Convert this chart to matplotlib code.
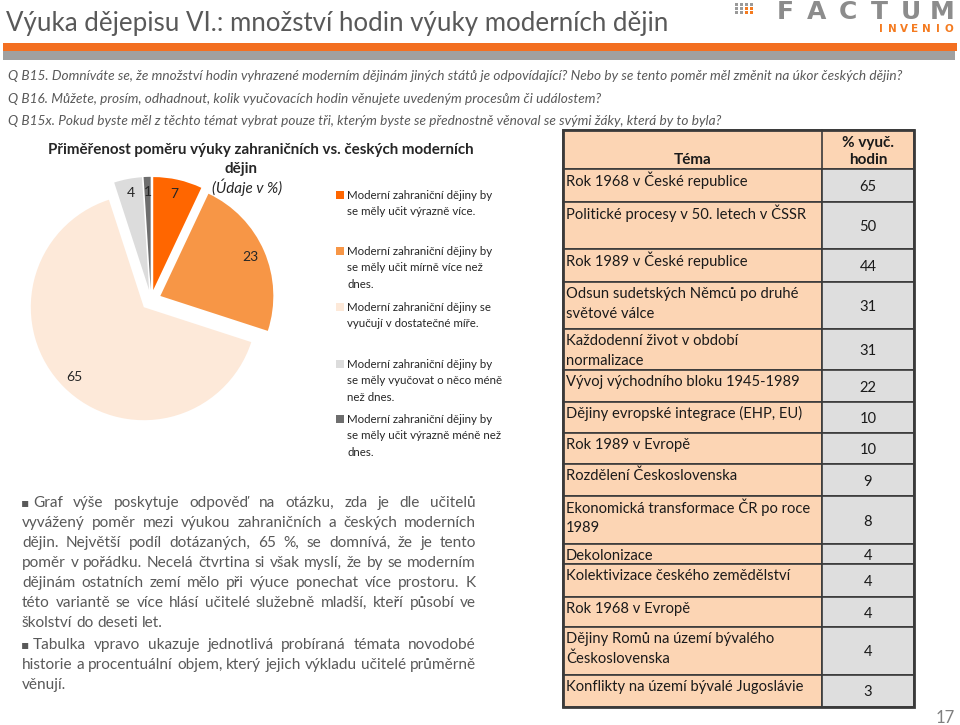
import matplotlib
matplotlib.use("Agg")
import matplotlib.pyplot as plt
from matplotlib.patches import Rectangle

# ---------------- data ----------------
pie_values = [7, 23, 65, 4, 1]
pie_colors = ["#FF6600", "#F79646", "#FDE9D9", "#DCDCDC", "#6E6E6E"]
pie_legend = [
    "Moderní zahraniční dějiny by\nse měly učit výrazně více.",
    "Moderní zahraniční dějiny by\nse měly učit mírně více než\ndnes.",
    "Moderní zahraniční dějiny se\nvyučují v dostatečné míře.",
    "Moderní zahraniční dějiny by\nse měly vyučovat o něco méně\nnež dnes.",
    "Moderní zahraniční dějiny by\nse měly učit výrazně méně než\ndnes.",
]
chart_title = ["Přiměřenost poměru výuky zahraničních vs. českých moderních", "dějin"]
chart_subtitle = "(Údaje v %)"

table_header = ["Téma", "% vyuč.\nhodin"]
table_topics = [
    "Rok 1968 v České republice",
    "Politické procesy v 50. letech v ČSSR",
    "Rok 1989 v České republice",
    "Odsun sudetských Němců po druhé\nsvětové válce",
    "Každodenní život v období\nnormalizace",
    "Vývoj východního bloku 1945-1989",
    "Dějiny evropské integrace (EHP, EU)",
    "Rok 1989 v Evropě",
    "Rozdělení Československa",
    "Ekonomická transformace ČR po roce\n1989",
    "Dekolonizace",
    "Kolektivizace českého zemědělství",
    "Rok 1968 v Evropě",
    "Dějiny Romů na území bývalého\nČeskoslovenska",
    "Konflikty na území bývalé Jugoslávie",
]
table_values = [65, 50, 44, 31, 31, 22, 10, 10, 9, 8, 4, 4, 4, 4, 3]

page_title = "Výuka dějepisu VI.: množství hodin výuky moderních dějin"
questions = [
    "Q B15. Domníváte se, že množství hodin vyhrazené moderním dějinám jiných států je odpovídající? Nebo by se tento poměr měl změnit na úkor českých dějin?",
    "Q B16. Můžete, prosím, odhadnout, kolik vyučovacích hodin věnujete uvedeným procesům či událostem?",
    "Q B15x. Pokud byste měl z těchto témat vybrat pouze tři, kterým byste se přednostně věnoval se svými žáky, která by to byla?",
]
paragraphs = [
    ["Graf výše poskytuje odpověď na otázku, zda je dle učitelů",
     "vyvážený poměr mezi výukou zahraničních a českých moderních",
     "dějin. Největší podíl dotázaných, 65 %, se domnívá, že je tento",
     "poměr v pořádku. Necelá čtvrtina si však myslí, že by se moderním",
     "dějinám ostatních zemí mělo při výuce ponechat více prostoru. K",
     "této variantě se více hlásí učitelé služebně mladší, kteří působí ve",
     "školství do deseti let."],
    ["Tabulka vpravo ukazuje jednotlivá probíraná témata novodobé",
     "historie a procentuální objem, který jejich výkladu učitelé průměrně",
     "věnují."],
]
page_number = "17"

# ---------------- layout ----------------
W, H = 960, 725
FAM = ["Lato", "DejaVu Sans"]
plt.rcParams["font.family"] = FAM

fig = plt.figure(figsize=(W / 100, H / 100), dpi=100)
ax0 = fig.add_axes([0, 0, 1, 1])
ax0.set_xlim(0, W)
ax0.set_ylim(H, 0)
ax0.axis("off")
R = fig.canvas.get_renderer()


def width(t):
    return t.get_window_extent(renderer=R).width


def fit(t, w):
    t.set_fontsize(t.get_fontsize() * w / width(t))
    return t


# header
fit(ax0.text(6, 23, page_title, fontsize=20, color="#595959", va="center", ha="left"), 662)
ax0.add_patch(Rectangle((3, 43), 954, 8, color="#F36F21", lw=0))
ax0.add_patch(Rectangle((3, 51), 952, 9, color="#A0A0A0", lw=0))

# logo
for r in range(3):
    for c in range(4):
        col = "#F47B20" if (c >= 2 and r > 0) else "#9A9A9A"
        ax0.add_patch(Rectangle((735 + c * 5, 3 + r * 4), 3, 2.5, color=col, lw=0))
for i, ch in enumerate("FACTUM"):
    ax0.text(785 + i * 31.5, 12, ch, fontsize=18, color="#8C8C8C", ha="center", va="center",
             family="DejaVu Sans", fontweight="bold")
for i, ch in enumerate("INVENIO"):
    ax0.text(881 + i * 11.3, 29, ch, fontsize=7.5, color="#F47B20", ha="center", va="center",
             family="DejaVu Sans", fontweight="bold")

# questions
q_y = [76, 99, 121]
ref = ax0.text(0, 0, questions[2], fontsize=11, style="italic")
fit(ref, 712)
qfs = ref.get_fontsize()
ref.remove()
for q, y in zip(questions, q_y):
    ax0.text(8, y, q, fontsize=qfs, color="#595959", style="italic", va="center", ha="left")

# pie
cx, cy, rad = 151, 300, 113
k = 1.5
axp = fig.add_axes([(cx - k * rad) / W, (H - cy - k * rad) / H, 2 * k * rad / W, 2 * k * rad / H])
wedges, texts, autotexts = axp.pie(
    pie_values, colors=pie_colors, startangle=90, counterclock=False,
    explode=[0.09] * len(pie_values), autopct=lambda p: f"{p:.0f}", pctdistance=0.87,
    wedgeprops=dict(linewidth=0), textprops=dict(fontsize=10, color="#262626"))
axp.set_xlim(-k, k)
axp.set_ylim(-k, k)
axp.axis("off")

# chart title
t = ax0.text(261, 150, chart_title[0], fontsize=10.5, fontweight="bold", color="#262626", ha="center", va="center")
fit(t, 430)
tfs_title = t.get_fontsize()
ax0.text(241, 169, chart_title[1], fontsize=tfs_title, fontweight="bold", color="#262626", ha="center", va="center")
ax0.text(247, 187, chart_subtitle, fontsize=tfs_title, style="italic", color="#262626", ha="center", va="center")

# legend
leg_y = [195, 251, 307, 364, 419]
ref = ax0.text(0, 0, pie_legend[0].split("\n")[0], fontsize=9)
fit(ref, 147)
lfs = ref.get_fontsize()
ref.remove()
for lab, col, y in zip(pie_legend, pie_colors, leg_y):
    ax0.add_patch(Rectangle((335.5, y - 4), 8, 8, color=col, lw=0))
    for j, line in enumerate(lab.split("\n")):
        ax0.text(347, y + j * 16.8, line, fontsize=lfs, color="#262626", ha="left", va="center")

# table
tx0, tx1, tx2 = 563, 822, 914
ty0, thead = 130, 169
row_h = [33, 47, 33, 47, 41, 32, 31, 31, 32, 48, 20, 33, 30, 48, 32]
peach, grey, edge = "#FCD5B4", "#DEDEDE", "#3A3A3A"
ax0.add_patch(Rectangle((tx0, ty0), tx2 - tx0, thead - ty0, facecolor=peach, edgecolor=edge, lw=1.2))
ax0.plot([tx1, tx1], [ty0, thead], color=edge, lw=1.2)
ax0.text((tx0 + tx1) / 2, 160, table_header[0], fontsize=11, fontweight="bold", color="#1A1A1A", ha="center", va="center")
hl = table_header[1].split("\n")
ax0.text((tx1 + tx2) / 2, 143, hl[0], fontsize=11, fontweight="bold", color="#1A1A1A", ha="center", va="center")
ax0.text((tx1 + tx2) / 2, 160, hl[1], fontsize=11, fontweight="bold", color="#1A1A1A", ha="center", va="center")

ref = ax0.text(0, 0, table_topics[0], fontsize=11)
fit(ref, 181)
tfs = ref.get_fontsize()
ref.remove()

y = thead
for topic, val, h in zip(table_topics, table_values, row_h):
    ax0.add_patch(Rectangle((tx0, y), tx1 - tx0, h, facecolor=peach, edgecolor=edge, lw=1.2))
    ax0.add_patch(Rectangle((tx1, y), tx2 - tx1, h, facecolor=grey, edgecolor=edge, lw=1.2))
    for j, line in enumerate(topic.split("\n")):
        ax0.text(566, y + 11.5 + j * 20, line, fontsize=tfs, color="#1A1A1A", ha="left", va="center")
    ax0.text((tx1 + tx2) / 2, y + h / 2 + 1.5, str(val), fontsize=tfs, color="#1A1A1A", ha="center", va="center")
    y += h
ax0.add_patch(Rectangle((tx0, ty0), tx2 - tx0, y - ty0, facecolor="none", edgecolor=edge, lw=2))

# paragraphs (justified)
pcol = "#595959"
ref = ax0.text(0, 0, paragraphs[1][1], fontsize=11)
fit(ref, 452)
pfs = ref.get_fontsize()
ref.remove()
a1 = ax0.text(0, 0, "a a", fontsize=pfs)
a2 = ax0.text(0, 0, "aa", fontsize=pfs)
space_w = width(a1) - width(a2)
a1.remove(); a2.remove()

left, right = 22, 476
par_y = [[503, 523, 543, 563, 583, 603, 623], [645, 665, 685]]
for par, ys in zip(paragraphs, par_y):
    for li, (line, yy) in enumerate(zip(par, ys)):
        x0 = 33 if li == 0 else left
        if li == 0:
            ax0.text(25.5, yy, "\u25aa", fontsize=pfs * 0.8, color=pcol, ha="center", va="center",
                     family=["DejaVu Sans"])
        words = line.split(" ")
        ts = [ax0.text(0, yy, w, fontsize=pfs, color=pcol, ha="left", va="center") for w in words]
        ws = [width(t) for t in ts]
        last = li == len(par) - 1
        gap = space_w if (last or len(words) < 2) else (right - x0 - sum(ws)) / (len(words) - 1)
        x = x0
        for t, w in zip(ts, ws):
            t.set_x(x)
            x += w + gap

ax0.text(955, 718, page_number, fontsize=12, color="#7F7F7F", ha="right", va="center")

fig.savefig("out.png", dpi=100)
